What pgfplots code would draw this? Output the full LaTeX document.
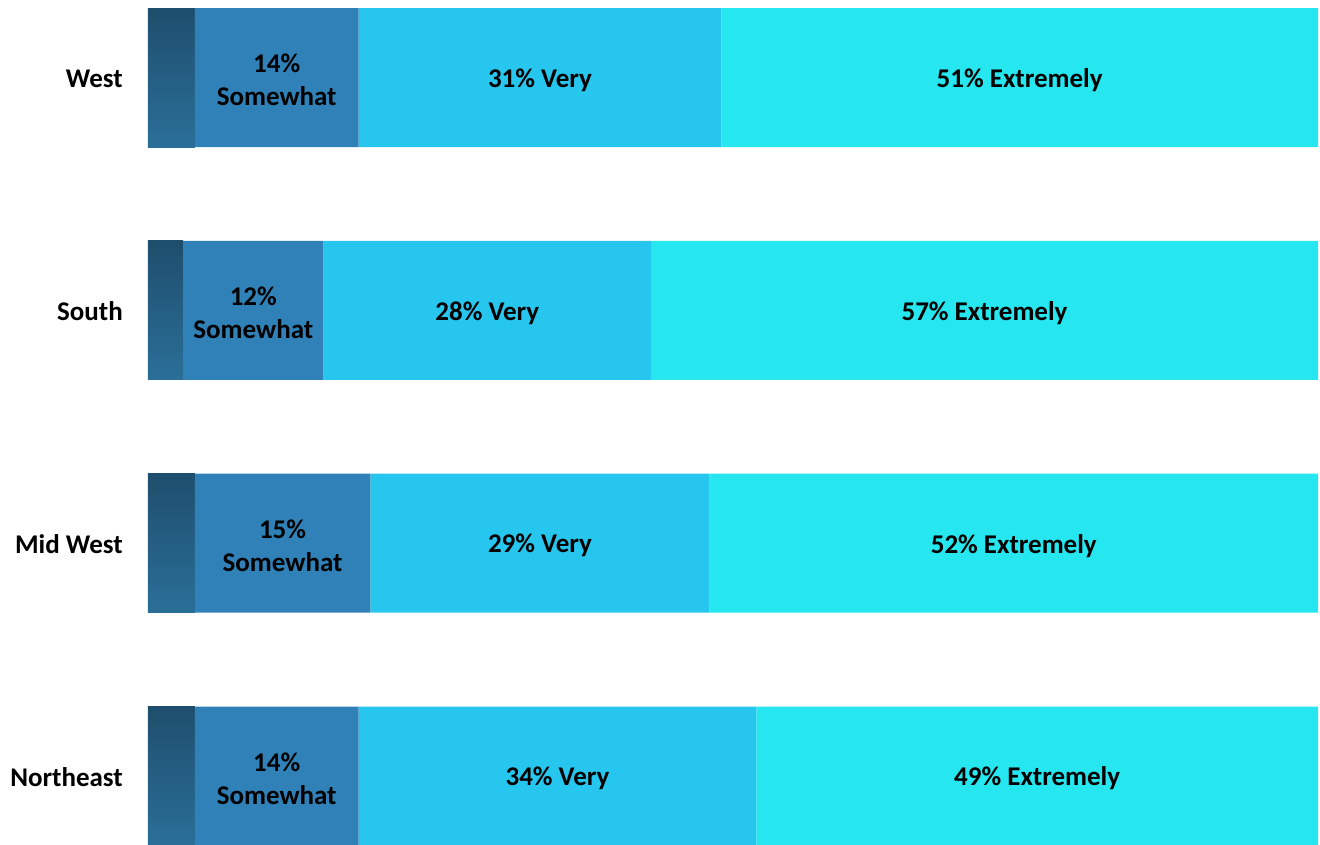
\documentclass[border=0pt]{standalone}
\usepackage{pgfplots}
\pgfplotsset{compat=1.18}
\usepackage{fontspec}
\setmainfont{Carlito}
\definecolor{darkA}{HTML}{1F4E6D}
\definecolor{darkB}{HTML}{2A6F98}
\definecolor{somew}{HTML}{2F81B7}
\definecolor{very}{HTML}{26C6EE}
\definecolor{extr}{HTML}{26E6EF}
\pgfplotsset{
  barlbl/.style={
    point meta=explicit,
    nodes near coords,
    /pgf/number format/assume math mode=true,
    every node near coord/.append style={anchor=center, yshift=-2.5pt,
      font=\fontsize{27}{33}\selectfont\bfseries, align=center, text=black},
  },
}
\begin{document}
\begin{tikzpicture}
\useasboundingbox (-148pt,0) rectangle (1172pt,844pt);
% shaded first segment, one bar per plot so each bar gets its own gradient
\begin{axis}[
  at={(0,0)}, anchor=south west,
  scale only axis, width=1170pt, height=844pt,
  xmin=0, xmax=100, ymin=-0.292, ymax=3.333,
  hide axis,
]
\addplot[xbar, bar width=139pt, bar shift=0pt, draw=none, top color=darkA, bottom color=darkB] coordinates {(4,3)};
\addplot[xbar, bar width=139pt, bar shift=0pt, draw=none, top color=darkA, bottom color=darkB] coordinates {(3,2)};
\addplot[xbar, bar width=139pt, bar shift=0pt, draw=none, top color=darkA, bottom color=darkB] coordinates {(4,1)};
\addplot[xbar, bar width=139pt, bar shift=0pt, draw=none, top color=darkA, bottom color=darkB] coordinates {(4,0)};
\end{axis}
\begin{axis}[
  at={(0,0)}, anchor=south west,
  scale only axis, width=1170pt, height=844pt,
  xbar stacked, bar width=139pt,
  xmin=0, xmax=100, ymin=-0.292, ymax=3.333,
  axis line style={draw=none}, tick style={draw=none},
  xtick=\empty,
  ytick={0,1,2,3},
  yticklabels={Northeast, Mid West, South, West},
  yticklabel style={font=\fontsize{27}{33}\selectfont\bfseries, inner sep=0pt, xshift=-25pt, yshift=-1pt},
]
\addplot[draw=none, fill=none] coordinates {(4,3) (3,2) (4,1) (4,0)};
\addplot[draw=none, fill=somew, barlbl,
  nodes near coords={\pgfmathprintnumber{\pgfplotspointmeta}\%\\Somewhat}]
  coordinates {(14,3) [14] (12,2) [12] (15,1) [15] (14,0) [14]};
\addplot[draw=none, fill=very, barlbl,
  nodes near coords={\pgfmathprintnumber{\pgfplotspointmeta}\% Very}]
  coordinates {(31,3) [31] (28,2) [28] (29,1) [29] (34,0) [34]};
\addplot[draw=none, fill=extr, barlbl,
  nodes near coords={\pgfmathprintnumber{\pgfplotspointmeta}\% Extremely}]
  coordinates {(51,3) [51] (57,2) [57] (52,1) [52] (48,0) [49]};
\end{axis}
\end{tikzpicture}
\end{document}
